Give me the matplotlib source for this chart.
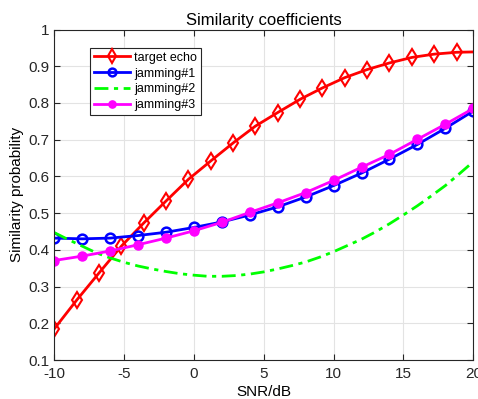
import numpy as np
import matplotlib.pyplot as plt

plt.rcParams['font.family'] = ['Liberation Sans', 'DejaVu Sans']
plt.rcParams['axes.unicode_minus'] = False

# target echo: markers every 1.6 dB, plus the line end at 20 dB
snr_echo = [-10, -8.4, -6.8, -5.2, -3.6, -2.0, -0.4, 1.2, 2.8, 4.4, 6.0, 7.6,
            9.2, 10.8, 12.4, 14.0, 15.6, 17.2, 18.8, 20]
echo = [0.185, 0.263, 0.337, 0.410, 0.473, 0.533, 0.592, 0.642, 0.691, 0.737,
        0.774, 0.810, 0.841, 0.869, 0.891, 0.909, 0.924, 0.933, 0.938, 0.939]

snr_jam = [-10, -8, -6, -4, -2, 0, 2, 4, 6, 8, 10, 12, 14, 16, 18, 20]
jam1 = [0.432, 0.430, 0.432, 0.439, 0.448, 0.461, 0.476, 0.495, 0.517, 0.544,
        0.575, 0.609, 0.647, 0.687, 0.731, 0.778]
jam3 = [0.371, 0.383, 0.397, 0.414, 0.432, 0.452, 0.475, 0.502, 0.528, 0.556,
        0.589, 0.625, 0.660, 0.701, 0.742, 0.785]

snr_j2 = list(range(-10, 21))
jam2 = [0.447, 0.428, 0.410, 0.392, 0.378, 0.366, 0.356, 0.348, 0.341, 0.335,
        0.331, 0.328, 0.328, 0.330, 0.334, 0.340, 0.348, 0.357, 0.367, 0.380,
        0.395, 0.412, 0.429, 0.449, 0.471, 0.495, 0.520, 0.547, 0.575, 0.607,
        0.640]

fig = plt.figure(figsize=(4.78, 3.99), dpi=100)
ax = fig.add_axes([0.1136, 0.0977, 0.8765, 0.8283])

ax.plot(snr_echo, echo, color='red', lw=2, marker='d', ms=8.5, mew=1.5,
        mfc='none', markevery=list(range(len(echo) - 1)), label='target echo')
ax.plot(snr_jam, jam1, color='blue', lw=2, marker='o', ms=7, mew=1.8,
        mfc='none', label='jamming#1')
ax.plot(snr_j2, jam2, color='#00ff00', lw=2, ls=(0, (5, 2, 1.5, 2)),
        label='jamming#2')
ax.plot(snr_jam, jam3, color='magenta', lw=2, marker='o', ms=6.5,
        label='jamming#3')

ax.set_xlim(-10, 20)
ax.set_ylim(0.1, 1)
ax.set_xticks(np.arange(-10, 21, 5))
ax.set_yticks(np.arange(0.1, 1.01, 0.1))
ax.set_yticklabels(['0.1', '0.2', '0.3', '0.4', '0.5', '0.6', '0.7', '0.8', '0.9', '1'])
ax.grid(True, color='#e3e3e3', lw=0.8)
ax.tick_params(direction='in', top=True, right=True, labelsize=11,
               colors='#262626', length=4)
ax.tick_params(axis='x', pad=5)
for s in ax.spines.values():
    s.set_color('#262626')
    s.set_linewidth(0.8)

ax.set_xlabel('SNR/dB', fontsize=11, labelpad=3)
ax.set_ylabel('Similarity probability', fontsize=11, labelpad=3)
ax.set_title('Similarity coefficients', fontsize=12, pad=3)

leg = ax.legend(loc='upper left', bbox_to_anchor=(0.086, 0.944), fontsize=9,
                fancybox=False, framealpha=1, edgecolor='#262626',
                borderpad=0.3, labelspacing=0.3, handlelength=2.9,
                handletextpad=0.3, borderaxespad=0, markerscale=0.8)
leg.get_frame().set_linewidth(0.8)

fig.savefig('out.png', dpi=100)
